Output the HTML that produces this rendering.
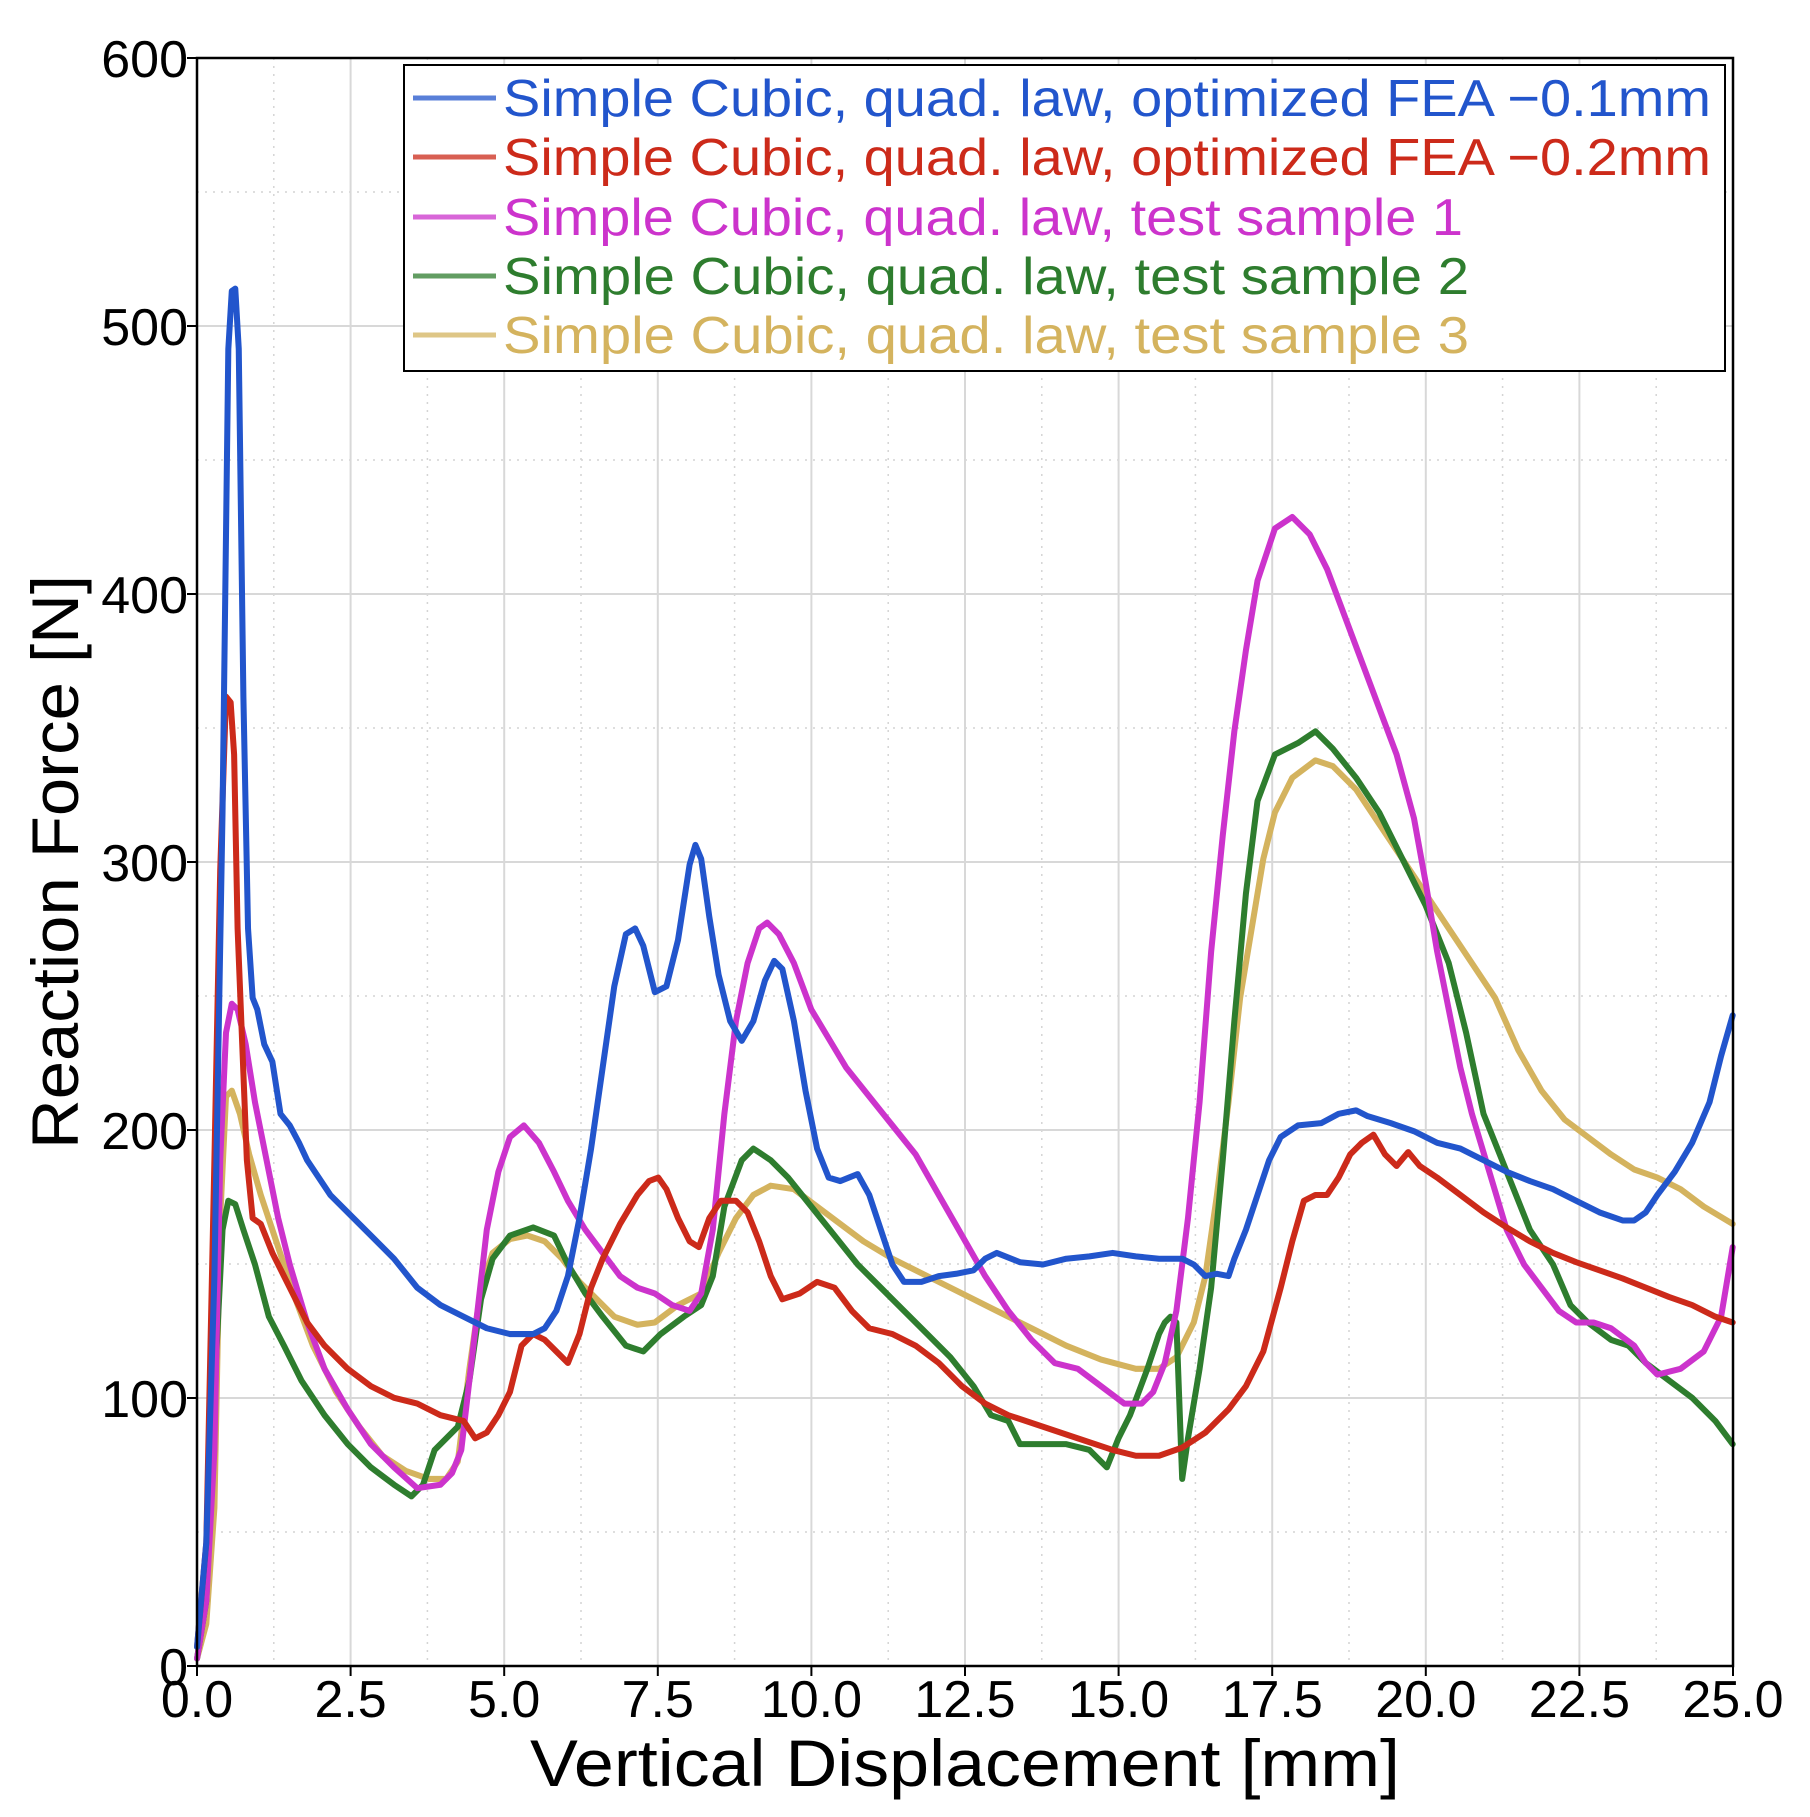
<!DOCTYPE html>
<html><head><meta charset="utf-8"><style>
html,body{margin:0;padding:0;background:#fff;}
svg{display:block;}
text{font-family:"Liberation Sans","DejaVu Sans",sans-serif;}
</style></head><body>
<svg width="1810" height="1817" viewBox="0 0 1810 1817" xmlns="http://www.w3.org/2000/svg">
<rect width="1810" height="1817" fill="#fff"/>
<g stroke="#d4d4d4" stroke-width="1.5" stroke-dasharray="2,6">
<line x1="273.8" y1="58" x2="273.8" y2="1666"/><line x1="427.4" y1="58" x2="427.4" y2="1666"/><line x1="581" y1="58" x2="581" y2="1666"/><line x1="734.6" y1="58" x2="734.6" y2="1666"/><line x1="888.2" y1="58" x2="888.2" y2="1666"/><line x1="1041.8" y1="58" x2="1041.8" y2="1666"/><line x1="1195.4" y1="58" x2="1195.4" y2="1666"/><line x1="1349" y1="58" x2="1349" y2="1666"/><line x1="1502.6" y1="58" x2="1502.6" y2="1666"/><line x1="1656.2" y1="58" x2="1656.2" y2="1666"/>
<line x1="197" y1="1532" x2="1733" y2="1532"/><line x1="197" y1="1264" x2="1733" y2="1264"/><line x1="197" y1="996" x2="1733" y2="996"/><line x1="197" y1="728" x2="1733" y2="728"/><line x1="197" y1="460" x2="1733" y2="460"/><line x1="197" y1="192" x2="1733" y2="192"/>
</g>
<g stroke="#d8d8d8" stroke-width="2">
<line x1="350.6" y1="58" x2="350.6" y2="1666"/><line x1="504.2" y1="58" x2="504.2" y2="1666"/><line x1="657.8" y1="58" x2="657.8" y2="1666"/><line x1="811.4" y1="58" x2="811.4" y2="1666"/><line x1="965" y1="58" x2="965" y2="1666"/><line x1="1118.6" y1="58" x2="1118.6" y2="1666"/><line x1="1272.2" y1="58" x2="1272.2" y2="1666"/><line x1="1425.8" y1="58" x2="1425.8" y2="1666"/><line x1="1579.4" y1="58" x2="1579.4" y2="1666"/>
<line x1="197" y1="1398" x2="1733" y2="1398"/><line x1="197" y1="1130" x2="1733" y2="1130"/><line x1="197" y1="862" x2="1733" y2="862"/><line x1="197" y1="594" x2="1733" y2="594"/><line x1="197" y1="326" x2="1733" y2="326"/>
</g>
<g stroke="#000" stroke-width="2">
<line x1="197" y1="1666" x2="197" y2="1676"/><line x1="350.6" y1="1666" x2="350.6" y2="1676"/><line x1="504.2" y1="1666" x2="504.2" y2="1676"/><line x1="657.8" y1="1666" x2="657.8" y2="1676"/><line x1="811.4" y1="1666" x2="811.4" y2="1676"/><line x1="965" y1="1666" x2="965" y2="1676"/><line x1="1118.6" y1="1666" x2="1118.6" y2="1676"/><line x1="1272.2" y1="1666" x2="1272.2" y2="1676"/><line x1="1425.8" y1="1666" x2="1425.8" y2="1676"/><line x1="1579.4" y1="1666" x2="1579.4" y2="1676"/><line x1="1733" y1="1666" x2="1733" y2="1676"/>
<line x1="187" y1="1666" x2="197" y2="1666"/><line x1="187" y1="1398" x2="197" y2="1398"/><line x1="187" y1="1130" x2="197" y2="1130"/><line x1="187" y1="862" x2="197" y2="862"/><line x1="187" y1="594" x2="197" y2="594"/><line x1="187" y1="326" x2="197" y2="326"/><line x1="187" y1="58" x2="197" y2="58"/>
</g>
<g transform="translate(0,1.2) scale(1.159)" fill="none" stroke-width="5.2" stroke-linejoin="round" stroke-linecap="round">
<polyline stroke="#d4b35e" points="170,1430 178,1400 185,1300 190,1050 195,945 200,940 207,960 215,995 225,1030 240,1075 255,1120 270,1160 290,1200 310,1230 330,1255 350,1268 370,1275 385,1275 395,1260 405,1180 415,1110 425,1080 440,1068 455,1065 470,1070 485,1085 500,1105 515,1120 530,1135 550,1142 565,1140 585,1125 605,1115 620,1080 635,1050 650,1030 665,1022 685,1025 705,1040 725,1055 745,1070 770,1085 800,1100 830,1115 860,1130 890,1145 920,1160 950,1172 980,1180 1000,1180 1015,1170 1030,1140 1040,1100 1050,1030 1060,950 1070,860 1080,800 1090,740 1100,700 1115,670 1135,655 1150,660 1170,680 1190,710 1210,740 1230,770 1250,800 1270,830 1290,860 1310,905 1330,940 1350,965 1370,980 1390,995 1410,1008 1430,1015 1450,1025 1470,1040 1495,1055"/>
<polyline stroke="#2e7d2e" points="170,1430 178,1380 185,1200 192,1060 197,1035 203,1038 210,1060 220,1090 232,1135 245,1160 260,1190 280,1220 300,1245 320,1265 340,1280 355,1290 365,1280 375,1250 385,1240 395,1230 405,1190 415,1120 425,1085 440,1065 460,1058 478,1065 490,1090 505,1115 520,1135 540,1160 555,1165 570,1150 590,1135 605,1125 615,1100 625,1040 640,1000 650,990 665,1000 680,1015 700,1040 720,1065 740,1090 760,1110 780,1130 800,1150 820,1170 840,1195 855,1220 870,1225 880,1245 900,1245 920,1245 940,1250 955,1265 965,1240 975,1220 990,1180 1000,1150 1005,1140 1010,1135 1015,1140 1020,1275 1025,1240 1035,1180 1045,1110 1055,1000 1065,880 1075,770 1085,690 1100,650 1120,640 1135,630 1150,645 1170,670 1190,700 1210,740 1230,780 1250,830 1265,890 1280,960 1300,1010 1320,1060 1340,1090 1355,1125 1370,1140 1390,1155 1405,1160 1420,1175 1440,1190 1460,1205 1480,1225 1495,1245"/>
<polyline stroke="#cc33cc" points="170,1430 178,1380 185,1250 190,1000 195,890 200,865 205,870 212,900 220,950 230,1000 240,1050 250,1090 265,1140 280,1180 300,1215 320,1245 340,1265 360,1283 380,1280 390,1270 398,1250 405,1190 412,1130 420,1060 430,1010 440,980 452,970 465,985 478,1010 490,1035 505,1060 520,1080 535,1100 550,1110 565,1115 580,1125 595,1130 605,1115 615,1060 625,960 635,880 645,830 655,800 662,795 672,805 685,830 700,870 715,895 730,920 750,945 770,970 790,995 810,1030 830,1065 850,1100 870,1130 890,1155 910,1175 930,1180 950,1195 970,1210 985,1210 995,1200 1005,1175 1015,1130 1025,1050 1035,950 1045,820 1055,720 1065,630 1075,560 1085,500 1100,455 1115,445 1130,460 1145,490 1160,530 1175,570 1190,610 1205,650 1220,705 1230,760 1240,820 1250,870 1260,920 1270,960 1285,1010 1300,1060 1315,1090 1330,1110 1345,1130 1360,1140 1375,1140 1390,1145 1410,1160 1420,1175 1430,1185 1450,1180 1470,1165 1485,1135 1495,1075"/>
<polyline stroke="#cc2a1a" points="170,1420 178,1330 185,1000 190,750 195,600 199,605 202,650 205,800 209,900 213,1000 218,1050 225,1055 235,1080 250,1110 265,1140 280,1160 300,1180 320,1195 340,1205 360,1210 380,1220 400,1225 410,1240 420,1235 430,1220 440,1200 450,1160 460,1150 470,1155 480,1165 490,1175 500,1150 510,1110 520,1085 535,1055 550,1030 560,1018 568,1015 575,1025 585,1050 595,1070 603,1075 612,1050 622,1035 635,1035 645,1045 655,1070 665,1100 675,1120 690,1115 705,1105 720,1110 735,1130 750,1145 770,1150 790,1160 810,1175 830,1195 850,1210 870,1220 900,1230 930,1240 960,1250 980,1255 1000,1255 1020,1248 1040,1235 1060,1215 1075,1195 1090,1165 1105,1110 1115,1070 1125,1035 1135,1030 1145,1030 1155,1015 1165,995 1175,985 1185,978 1195,995 1205,1005 1215,993 1225,1005 1240,1015 1260,1030 1280,1045 1300,1058 1320,1070 1340,1080 1360,1088 1380,1095 1400,1102 1420,1110 1440,1118 1460,1125 1480,1135 1495,1140"/>
<polyline stroke="#2255cc" points="170,1420 178,1330 185,1100 192,700 197,300 200,250 203,248 206,300 210,600 214,800 218,860 222,870 228,900 235,915 242,960 250,970 258,985 265,1000 275,1015 285,1030 300,1045 320,1065 340,1085 360,1110 380,1125 400,1135 420,1145 440,1150 460,1150 470,1145 480,1130 490,1100 500,1050 510,990 520,920 530,850 540,805 548,800 555,815 565,855 575,850 585,810 595,745 600,728 605,740 612,790 620,840 630,880 640,897 650,880 660,845 668,828 675,835 685,880 695,940 705,990 715,1015 725,1018 740,1012 750,1030 760,1060 770,1090 780,1105 795,1105 810,1100 825,1098 840,1095 850,1085 860,1080 880,1088 900,1090 920,1085 940,1083 960,1080 980,1083 1000,1085 1020,1085 1030,1090 1040,1100 1050,1098 1060,1100 1065,1085 1075,1060 1085,1030 1095,1000 1105,980 1120,970 1140,968 1155,960 1170,957 1180,962 1200,968 1220,975 1240,985 1260,990 1280,1000 1300,1010 1320,1018 1340,1025 1360,1035 1380,1045 1400,1052 1410,1052 1420,1045 1430,1030 1445,1010 1460,985 1475,950 1485,910 1495,875"/>
</g>
<rect x="197" y="58" width="1536" height="1608" fill="none" stroke="#000" stroke-width="2.5"/>
<rect x="404" y="65" width="1321" height="306" fill="#fff" stroke="#000" stroke-width="2"/>
<g stroke-width="5" opacity="0.75">
<line x1="413" y1="98" x2="496" y2="98" stroke="#2255cc"/>
<line x1="413" y1="157" x2="496" y2="157" stroke="#cc2a1a"/>
<line x1="413" y1="217" x2="496" y2="217" stroke="#cc33cc"/>
<line x1="413" y1="276" x2="496" y2="276" stroke="#2e7d2e"/>
<line x1="413" y1="335" x2="496" y2="335" stroke="#d4b35e"/>
</g>
<g font-size="52">
<text x="503" y="116" fill="#2255cc" textLength="1208" lengthAdjust="spacingAndGlyphs">Simple Cubic, quad. law, optimized FEA −0.1mm</text>
<text x="503" y="175" fill="#cc2a1a" textLength="1208" lengthAdjust="spacingAndGlyphs">Simple Cubic, quad. law, optimized FEA −0.2mm</text>
<text x="503" y="235" fill="#cc33cc" textLength="960" lengthAdjust="spacingAndGlyphs">Simple Cubic, quad. law, test sample 1</text>
<text x="503" y="294" fill="#2e7d2e" textLength="966" lengthAdjust="spacingAndGlyphs">Simple Cubic, quad. law, test sample 2</text>
<text x="503" y="353" fill="#d4b35e" textLength="966" lengthAdjust="spacingAndGlyphs">Simple Cubic, quad. law, test sample 3</text>
</g>
<g font-size="52" fill="#000" text-anchor="end">
<text x="188" y="1685">0</text>
<text x="188" y="1417">100</text>
<text x="188" y="1149">200</text>
<text x="188" y="881">300</text>
<text x="188" y="613">400</text>
<text x="188" y="345">500</text>
<text x="188" y="77">600</text>
</g>
<g font-size="52" fill="#000" text-anchor="middle">
<text x="197" y="1717">0.0</text>
<text x="350.6" y="1717">2.5</text>
<text x="504.2" y="1717">5.0</text>
<text x="657.8" y="1717">7.5</text>
<text x="811.4" y="1717">10.0</text>
<text x="965" y="1717">12.5</text>
<text x="1118.6" y="1717">15.0</text>
<text x="1272.2" y="1717">17.5</text>
<text x="1425.8" y="1717">20.0</text>
<text x="1579.4" y="1717">22.5</text>
<text x="1733" y="1717">25.0</text>
</g>
<text x="965" y="1786" font-size="66" text-anchor="middle" textLength="870" lengthAdjust="spacingAndGlyphs">Vertical Displacement [mm]</text>
<text transform="translate(78,862) rotate(-90)" font-size="66" text-anchor="middle" textLength="574" lengthAdjust="spacingAndGlyphs">Reaction Force [N]</text>
</svg>
</body></html>
